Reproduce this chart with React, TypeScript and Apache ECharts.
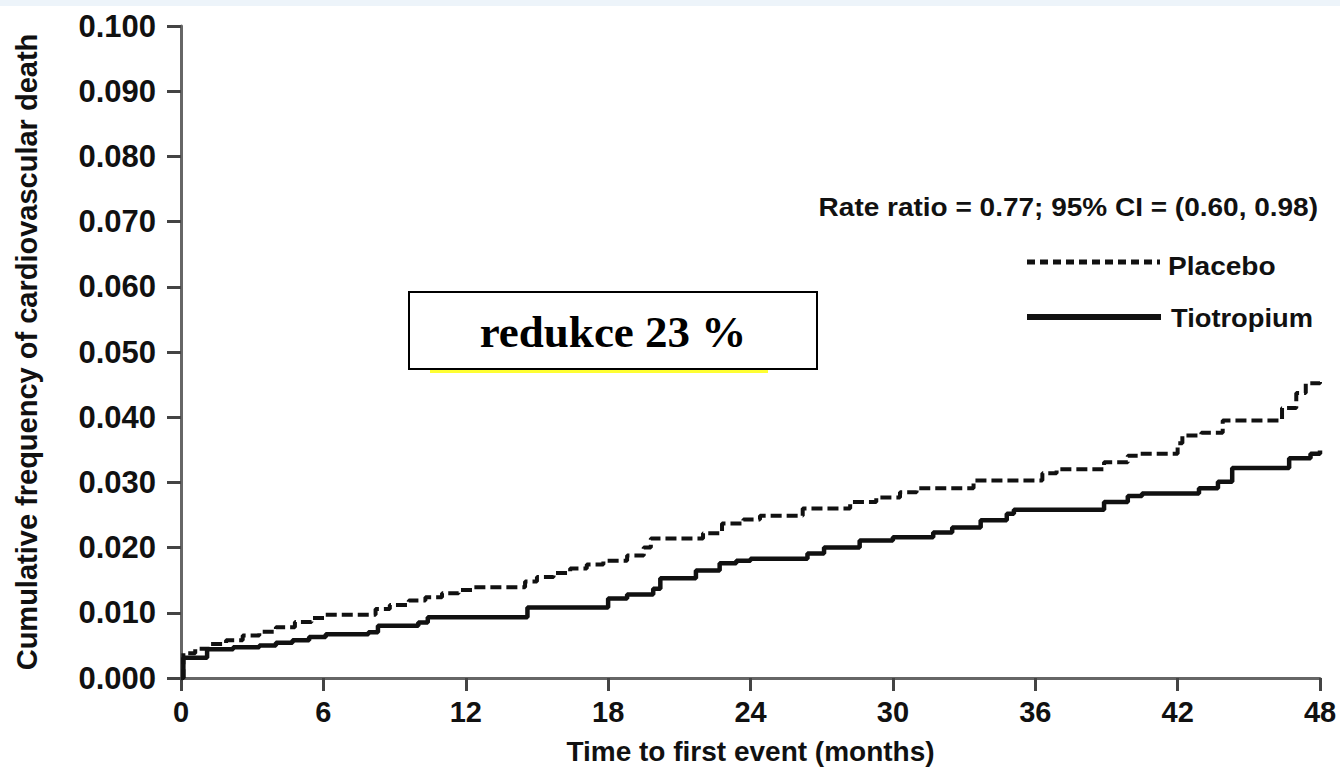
import React, { useEffect, useRef } from "react";
import * as echarts from "echarts";

// Tick values
const xTickMin = 0;
const xTickMax = 48;
const xTickStep = 6;
const yTickMin = 0;
const yTickMax = 0.1;
const yTickStep = 0.01;

// Placebo (dashed) step curve: months and cumulative frequency
const placeboMonths = [0, 0.1, 0.6, 1.2, 1.9, 2.6, 3.3, 4.0, 4.8, 5.5, 6.1, 8.2, 8.8, 9.6, 10.3, 11.0, 11.7, 12.3, 14.5, 15.0, 15.7, 16.4, 17.1, 17.8, 18.8, 19.5, 19.8, 22.0, 22.8, 23.7, 24.4, 26.2, 28.2, 29.3, 30.3, 31.0, 33.4, 36.3, 36.9, 38.9, 39.9, 40.4, 42.0, 42.2, 43.0, 43.9, 46.4, 47.0, 47.4, 48.0];
const placeboRisk = [0, 0.0038, 0.0045, 0.0052, 0.0058, 0.0065, 0.0071, 0.0078, 0.0086, 0.0092, 0.0097, 0.0106, 0.0112, 0.0119, 0.0124, 0.0130, 0.0135, 0.0139, 0.0148, 0.0155, 0.0161, 0.0168, 0.0174, 0.0180, 0.0188, 0.0200, 0.0214, 0.0222, 0.0237, 0.0243, 0.0249, 0.0260, 0.0270, 0.0277, 0.0285, 0.0291, 0.0303, 0.0314, 0.0320, 0.0331, 0.0341, 0.0344, 0.0360, 0.0372, 0.0376, 0.0395, 0.0414, 0.0437, 0.0452, 0.0457];

// Tiotropium (solid) step curve
const tioMonths = [0, 0.1, 1.1, 2.2, 3.3, 4.0, 4.7, 5.4, 6.1, 7.9, 8.3, 10.0, 10.4, 14.6, 18.0, 18.8, 19.9, 20.2, 21.7, 22.7, 23.4, 24.0, 26.4, 27.1, 28.6, 30.0, 31.7, 32.5, 33.7, 34.8, 35.1, 38.9, 39.9, 40.5, 42.9, 43.7, 44.3, 46.7, 47.6, 48.0];
const tioRisk = [0, 0.0031, 0.0044, 0.0047, 0.0050, 0.0054, 0.0058, 0.0063, 0.0067, 0.0070, 0.0080, 0.0085, 0.0093, 0.0108, 0.0122, 0.0128, 0.0137, 0.0153, 0.0165, 0.0176, 0.0180, 0.0183, 0.0191, 0.0200, 0.0211, 0.0216, 0.0223, 0.0231, 0.0242, 0.0252, 0.0258, 0.0270, 0.0279, 0.0283, 0.0291, 0.0301, 0.0322, 0.0337, 0.0344, 0.0349];

const seriesNames = ["Placebo", "Tiotropium"];
const xAxisTitle = "Time to first event (months)";
const yAxisTitle = "Cumulative frequency of cardiovascular death";
const rateText = "Rate ratio = 0.77; 95% CI = (0.60, 0.98)";
const boxText = "redukce 23 %";

const SANS = "'Liberation Sans', Arial, Helvetica, sans-serif";
const SERIF = "'Liberation Serif', 'Times New Roman', serif";

export default function App() {
  const ref = useRef<HTMLDivElement>(null);

  useEffect(() => {
    if (!ref.current) return;
    const chart = echarts.init(ref.current, null, { renderer: "svg" });
    const placeboData = placeboMonths.map((m, i) => [m, placeboRisk[i]]);
    const tioData = tioMonths.map((m, i) => [m, tioRisk[i]]);

    chart.setOption({
      animation: false,
      backgroundColor: "#ffffff",
      grid: { left: 181, right: 20, top: 26, bottom: 96, containLabel: false },
      xAxis: {
        type: "value",
        min: xTickMin,
        max: xTickMax,
        interval: xTickStep,
        name: xAxisTitle,
        nameLocation: "middle",
        nameGap: 59,
        nameTextStyle: { fontFamily: SANS, fontSize: 28, fontWeight: "bold", color: "#111" },
        axisLine: { show: true, onZero: false, lineStyle: { color: "#666", width: 3 } },
        axisTick: { show: true, length: 13, lineStyle: { color: "#444", width: 3 } },
        axisLabel: { fontFamily: SANS, fontSize: 29, fontWeight: "bold", color: "#111", margin: 19 },
        splitLine: { show: false },
      },
      yAxis: {
        type: "value",
        min: yTickMin,
        max: yTickMax,
        interval: yTickStep,
        name: yAxisTitle,
        nameLocation: "middle",
        nameGap: 140,
        nameRotate: 90,
        nameTextStyle: { fontFamily: SANS, fontSize: 29, fontWeight: "bold", color: "#111" },
        axisLine: { show: true, lineStyle: { color: "#666", width: 3 } },
        axisTick: { show: true, length: 14, lineStyle: { color: "#444", width: 3 } },
        axisLabel: {
          fontFamily: SANS,
          fontSize: 31,
          fontWeight: "bold",
          color: "#111",
          margin: 25,
          formatter: (v: number) => v.toFixed(3),
        },
        splitLine: { show: false },
      },
      series: [
        {
          name: seriesNames[0],
          type: "line",
          step: "end",
          data: placeboData,
          symbol: "none",
          showSymbol: false,
          lineStyle: { color: "#111", width: 4, type: [11, 5] },
        },
        {
          name: seriesNames[1],
          type: "line",
          step: "end",
          data: tioData,
          symbol: "none",
          showSymbol: false,
          lineStyle: { color: "#111", width: 4.5, type: "solid" },
        },
      ],
      graphic: [
        { type: "rect", left: 0, top: 0, shape: { width: 1340, height: 6 }, style: { fill: "#edf4fa" }, silent: true },
        {
          type: "text",
          x: 1318,
          y: 208,
          scaleX: 1.12,
          style: { text: rateText, fontFamily: SANS, fontSize: 25, fontWeight: "bold", fill: "#111", align: "right", verticalAlign: "middle" },
        },
        {
          type: "line",
          shape: { x1: 1027, y1: 262, x2: 1160, y2: 262 },
          style: { stroke: "#111", lineWidth: 5, lineDash: [8, 5] },
        },
        {
          type: "text",
          x: 1168,
          y: 266,
          scaleX: 1.08,
          style: { text: seriesNames[0], fontFamily: SANS, fontSize: 26, fontWeight: "bold", fill: "#111", align: "left", verticalAlign: "middle" },
        },
        {
          type: "line",
          shape: { x1: 1027, y1: 317, x2: 1161, y2: 317 },
          style: { stroke: "#111", lineWidth: 6 },
        },
        {
          type: "text",
          x: 1171,
          y: 318,
          scaleX: 1.05,
          style: { text: seriesNames[1], fontFamily: SANS, fontSize: 26, fontWeight: "bold", fill: "#111", align: "left", verticalAlign: "middle" },
        },
        {
          type: "rect",
          shape: { x: 430, y: 370, width: 338, height: 3 },
          style: { fill: "#ffff33" },
        },
        {
          type: "rect",
          shape: { x: 409, y: 292, width: 408, height: 77 },
          style: { fill: "#ffffff", stroke: "#000", lineWidth: 2 },
        },
        {
          type: "text",
          x: 613,
          y: 332,
          style: { text: boxText, fontFamily: SERIF, fontSize: 45, fontWeight: "bold", fill: "#000", align: "center", verticalAlign: "middle" },
        },
      ],
    });

    return () => chart.dispose();
  }, []);

  return (
    <div
      ref={ref}
      style={{ position: "fixed", left: 0, top: 0, width: 1340, height: 774, background: "#fff" }}
    />
  );
}
